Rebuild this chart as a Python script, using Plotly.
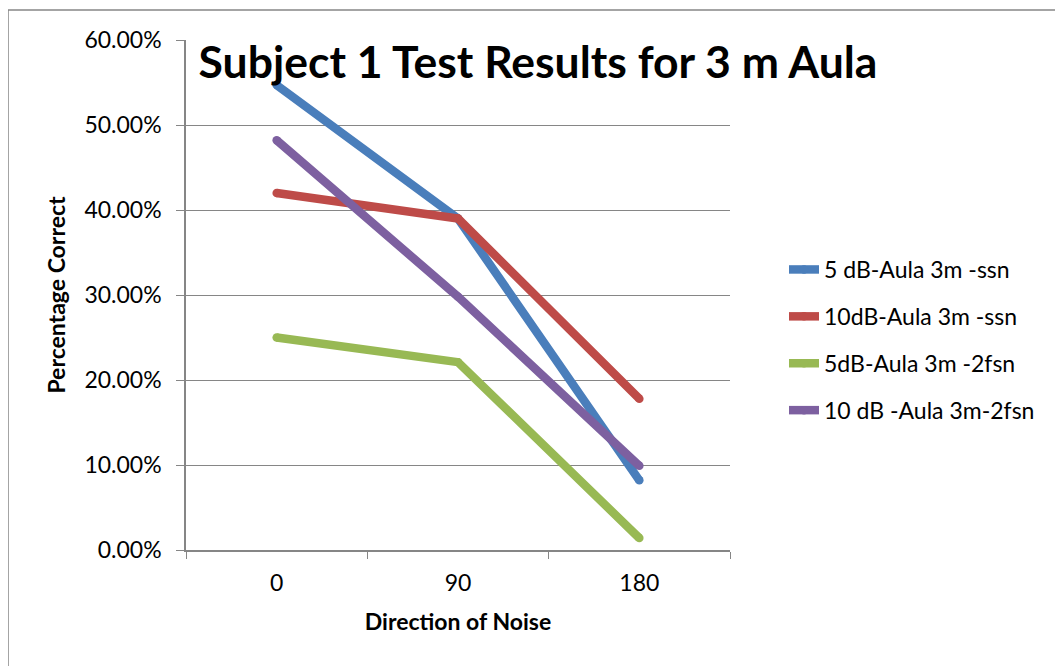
import plotly.graph_objects as go

directions = ["0", "90", "180"]
series_names = ["5 dB-Aula 3m -ssn", "10dB-Aula 3m -ssn", "5dB-Aula 3m -2fsn", "10 dB -Aula 3m-2fsn"]
s1 = [0.547, 0.390, 0.082]
s2 = [0.420, 0.390, 0.178]
s3 = [0.250, 0.221, 0.014]
s4 = [0.482, 0.298, 0.099]
colors = ["#4A7EBB", "#BE4B48", "#98B954", "#7D60A0"]
y_ticks = [0, 0.1, 0.2, 0.3, 0.4, 0.5, 0.6]

FONT = "Lato"
LW = 8.5
fig = go.Figure()
for i, (name, vals) in enumerate(zip(series_names, [s1, s2, s3, s4])):
    fig.add_trace(go.Scatter(x=directions, y=vals, name=name, mode="lines+markers",
                             line=dict(color=colors[i], width=LW),
                             marker=dict(color=colors[i], size=LW, line=dict(width=0)),
                             legendgroup=f"g{i}"))

# page is offset by 8px (body margin), so subtract it from target pixel positions
OFF = 8
L, T = 186 - OFF, 40 - OFF
W, H = 544, 510
R = 1063 - L - W
B = 666 - T - H
fig.update_layout(
    width=1063, height=666,
    margin=dict(l=L, r=R, t=T, b=B),
    paper_bgcolor="white", plot_bgcolor="white",
    font=dict(family=FONT, size=23, color="black"),
    title=dict(text="<b>Subject 1 Test Results for 3 m Aula</b>",
               font=dict(size=44.5, family=FONT, color="black"),
               x=(538-OFF)/1063, xanchor="center", y=1-(62-OFF)/666, yanchor="middle"),
    xaxis=dict(type="category", range=[-0.5, 2.5], tickson="boundaries", ticks="outside", ticklen=7,
               tickcolor="#868686", showline=True, linecolor="#868686", linewidth=1.5,
               showgrid=False, tickfont=dict(size=23), ticklabelstandoff=12,
               title=dict(text="<b>Direction of Noise</b>", font=dict(size=23), standoff=19)),
    yaxis=dict(range=[0, 0.6], tickvals=y_ticks, tickformat=".2%", ticks="outside",
               ticklen=8, tickcolor="#868686", showline=True, linecolor="#868686",
               linewidth=1.5, showgrid=True, gridcolor="#868686", gridwidth=1,
               zeroline=False, tickfont=dict(size=23), ticklabelstandoff=10,
               title=dict(text="<b>Percentage Correct</b>", font=dict(size=23), standoff=12)),
    legend=dict(x=(784-186)/W, xanchor="left", y=(550-340)/H, yanchor="middle",
                font=dict(size=23), traceorder="grouped", tracegroupgap=14,
                bgcolor="rgba(0,0,0,0)"),
    showlegend=True,
)
fig.add_shape(type="rect", xref="paper", yref="paper",
              x0=(8-186)/W, x1=(1080-186)/W, y0=(550-700)/H, y1=(550-10)/H,
              line=dict(color="#868686", width=1.5), layer="below")
fig.write_html("out.html")
